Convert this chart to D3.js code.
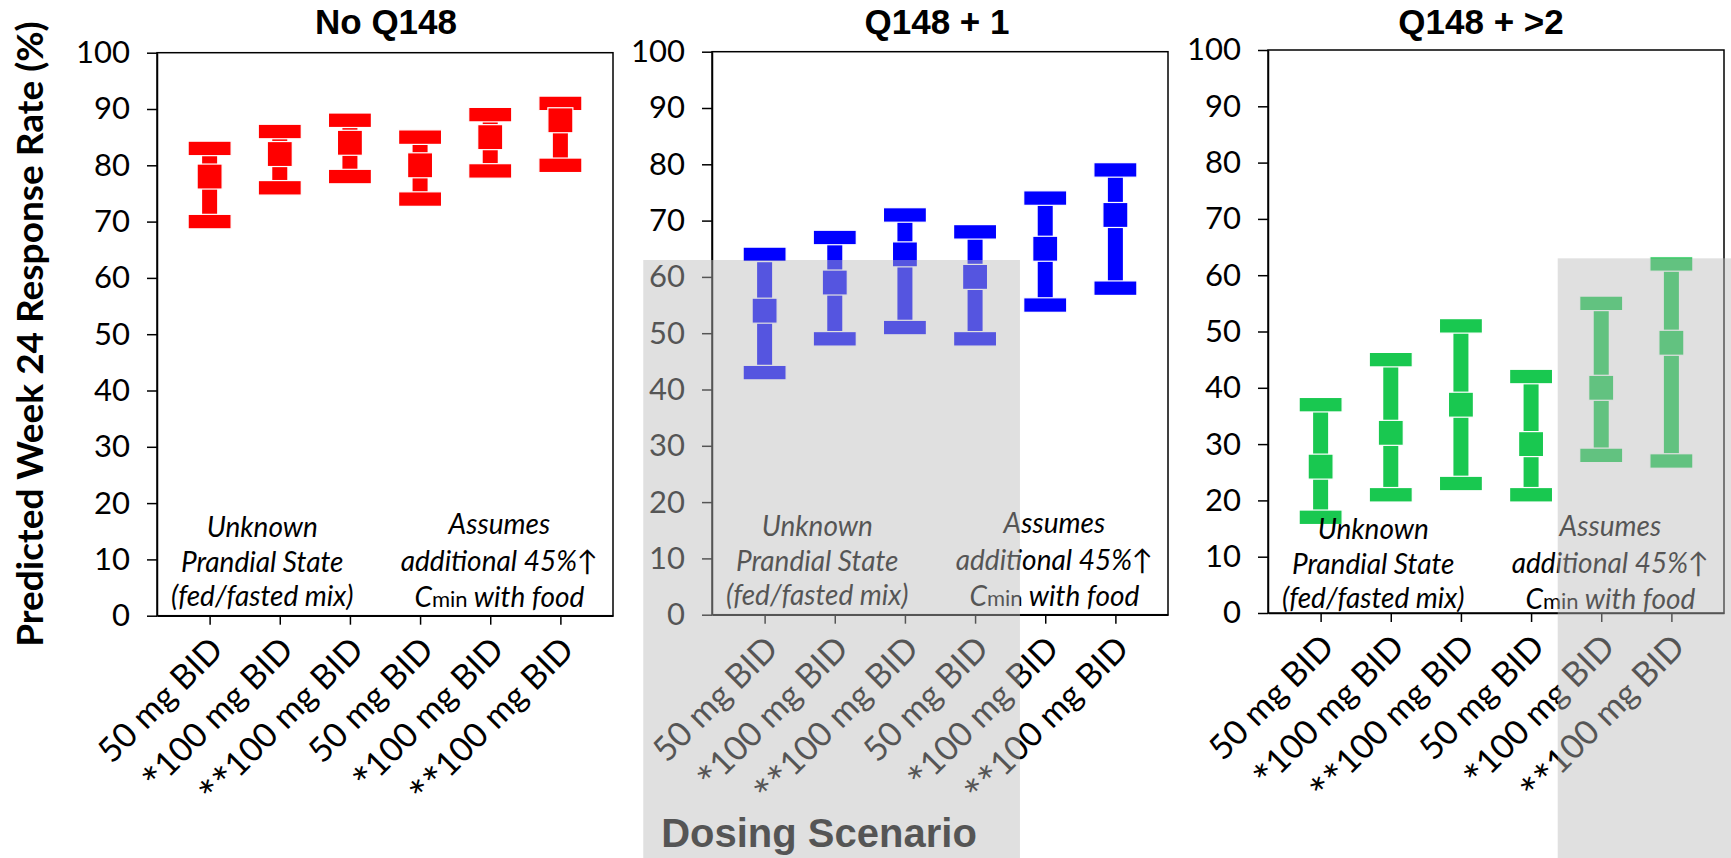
<!DOCTYPE html>
<html>
<head>
<meta charset="utf-8">
<script src="https://cdn.jsdelivr.net/npm/d3@7"></script>
<style>
  body { margin: 0; background: #fff; }
  text { font-family: Lato, "DejaVu Sans", sans-serif; }
  .title { font-family: "Liberation Sans", Arial, sans-serif; font-weight: bold; font-size: 35px; }
  .tick text { font-size: 31px; fill: #000; }
  .xlab .tick text { font-size: 34px; }
  .note { font-style: italic; font-size: 28px; }
</style>
</head>
<body>
<script>
// Chart data
const panelTitles = ["No Q148", "Q148 + 1", "Q148 + >2"];
const doseLabels = ["50 mg BID", "*100 mg BID", "**100 mg BID", "50 mg BID", "*100 mg BID", "**100 mg BID"];
const dosePositions = [1, 2, 3, 4, 5, 6];
const yTicks = [0, 10, 20, 30, 40, 50, 60, 70, 80, 90, 100];

// median, lower and upper bounds per panel
const medianNoQ148 = [78, 82, 84, 80, 85, 88];
const lowerNoQ148 = [70, 76, 78, 74, 79, 80];
const upperNoQ148 = [83, 86, 88, 85, 89, 91];

const medianQ148p1 = [54, 59, 64, 60, 65, 71];
const lowerQ148p1 = [43, 49, 51, 49, 55, 58];
const upperQ148p1 = [64, 67, 71, 68, 74, 79];

const medianQ148p2 = [26, 32, 37, 30, 40, 48];
const lowerQ148p2 = [17, 21, 23, 21, 28, 27];
const upperQ148p2 = [37, 45, 51, 42, 55, 62];

const panelColors = ["#ff0000", "#0000ff", "#19c850"];

// shaded regions (panel index, x from/to in dose units, top value)
const shadePanel = [1, 2];
const shadeFrom = [-0.73, 4.38];
const shadeTo = [4.64, 7.5];
const shadeTop = [63, 63];

// Layout
const svgWidth = 1731, svgHeight = 858;
const panelLeft = [157, 712, 1268];
const panelTop = [52.7, 51.7, 50];
const panelW = 456, panelH = 563;
const titleX = [386, 937, 1481];
const noteShift = [0, 0, 5];

const capW = 43, capH = 14.5, stemW = 15, boxSize = 25;

const svg = d3.select("body").append("svg")
  .attr("width", svgWidth)
  .attr("height", svgHeight);

const panelData = [
  { med: medianNoQ148, lo: lowerNoQ148, hi: upperNoQ148 },
  { med: medianQ148p1, lo: lowerQ148p1, hi: upperQ148p1 },
  { med: medianQ148p2, lo: lowerQ148p2, hi: upperQ148p2 }
];

const scales = [];

panelData.forEach(function(pd, i) {
  const x = d3.scaleLinear().domain([0.25, 6.75]).range([0, panelW]);
  const y = d3.scaleLinear().domain([0, 100]).range([panelH, 0]);
  scales.push({ x: x, y: y });

  const g = svg.append("g")
    .attr("transform", `translate(${panelLeft[i]}, ${panelTop[i]})`);

  // title
  svg.append("text")
    .attr("class", "title")
    .attr("x", titleX[i])
    .attr("y", 34)
    .attr("text-anchor", "middle")
    .text(panelTitles[i]);

  // frame
  g.append("rect")
    .attr("width", panelW)
    .attr("height", panelH)
    .attr("fill", "none")
    .attr("stroke", "#000")
    .attr("stroke-width", 1.5);

  // y axis
  const yAxis = g.append("g")
    .call(d3.axisLeft(y).tickValues(yTicks).tickSize(10).tickSizeOuter(0).tickPadding(17));
  yAxis.selectAll("path, line").attr("stroke", "#000").attr("stroke-width", 1.5);

  // x axis
  const xAxis = g.append("g")
    .attr("class", "xlab")
    .attr("transform", `translate(0, ${panelH})`)
    .call(d3.axisBottom(x).tickValues(dosePositions).tickSize(9).tickSizeOuter(0)
      .tickFormat(d => doseLabels[d - 1]));
  xAxis.selectAll("path, line").attr("stroke", "#000").attr("stroke-width", 1.5);
  xAxis.selectAll(".tick text")
    .attr("x", 0).attr("y", 0).attr("dy", 0)
    .attr("text-anchor", "end")
    .attr("transform", "translate(15, 36) rotate(-45)")
    .each(function(d) {
      // bigger asterisks, like the original font
      const label = doseLabels[d - 1];
      const stars = label.match(/^\**/)[0];
      if (!stars) return;
      const t = d3.select(this).text(null);
      t.append("tspan").style("font-size", "44px").attr("dy", 9).text(stars);
      t.append("tspan").attr("dy", -9).text(label.slice(stars.length));
    });

  // error bars
  const bars = g.selectAll(".bar")
    .data(dosePositions.map((p, j) => ({ pos: p, med: pd.med[j], lo: pd.lo[j], hi: pd.hi[j] })))
    .enter().append("g")
    .attr("class", "bar");

  bars.append("rect")
    .attr("x", d => x(d.pos) - stemW / 2)
    .attr("y", d => y(d.hi))
    .attr("width", stemW)
    .attr("height", d => y(d.lo) - y(d.hi))
    .attr("fill", panelColors[i]);

  [d => d.hi, d => d.lo].forEach(function(acc) {
    bars.append("rect")
      .attr("x", d => x(d.pos) - capW / 2)
      .attr("y", d => y(acc(d)) - capH / 2)
      .attr("width", capW)
      .attr("height", capH)
      .attr("fill", panelColors[i])
      .attr("stroke", "#fff")
      .attr("stroke-width", 1.2);
  });

  bars.append("rect")
    .attr("x", d => x(d.pos) - boxSize / 2)
    .attr("y", d => y(d.med) - boxSize / 2)
    .attr("width", boxSize)
    .attr("height", boxSize)
    .attr("fill", panelColors[i])
    .attr("stroke", "#fff")
    .attr("stroke-width", 1.2);

  // notes
  const unknown = g.append("text")
    .attr("class", "note")
    .attr("text-anchor", "middle");
  ["Unknown", "Prandial State", "(fed/fasted mix)"].forEach(function(line, k) {
    unknown.append("tspan")
      .attr("x", x(1.75))
      .attr("y", panelH - [79, 44, 10][k] + noteShift[i])
      .text(line);
  });

  const assumes = g.append("text")
    .attr("class", "note")
    .attr("text-anchor", "middle");
  assumes.append("tspan").attr("x", x(5.13)).attr("y", panelH - 82 + noteShift[i]).text("Assumes");
  assumes.append("tspan").attr("x", x(5.13)).attr("y", panelH - 45 + noteShift[i]).text("additional 45%\u2191");
  const last = g.append("text")
    .attr("class", "note")
    .attr("text-anchor", "middle")
    .attr("x", x(5.13))
    .attr("y", panelH - 9 + noteShift[i]);
  last.append("tspan").text("C");
  last.append("tspan").style("font-style", "normal").style("font-size", "22px").text("min");
  last.append("tspan").text(" with food");
});

// y axis title
svg.append("text")
  .attr("transform", "translate(43, 334) rotate(-90)")
  .attr("text-anchor", "middle")
  .style("font-weight", "bold")
  .style("font-size", "37px")
  .text("Predicted Week 24 Response Rate (%)");

// x axis title
svg.append("text")
  .attr("x", 819)
  .attr("y", 847)
  .attr("text-anchor", "middle")
  .style("font-family", "'Liberation Sans', Arial, sans-serif")
  .style("font-weight", "bold")
  .style("font-size", "40px")
  .text("Dosing Scenario");

// translucent gray shading on top
shadePanel.forEach(function(p, k) {
  const s = scales[p];
  const x0 = panelLeft[p] + s.x(shadeFrom[k]);
  const x1 = Math.min(svgWidth, panelLeft[p] + s.x(shadeTo[k]));
  const y0 = panelTop[p] + s.y(shadeTop[k]);
  svg.append("rect")
    .attr("x", x0)
    .attr("y", y0)
    .attr("width", x1 - x0)
    .attr("height", svgHeight - y0)
    .attr("fill", "rgb(187,187,187)")
    .attr("fill-opacity", 0.455);
});
</script>
</body>
</html>
